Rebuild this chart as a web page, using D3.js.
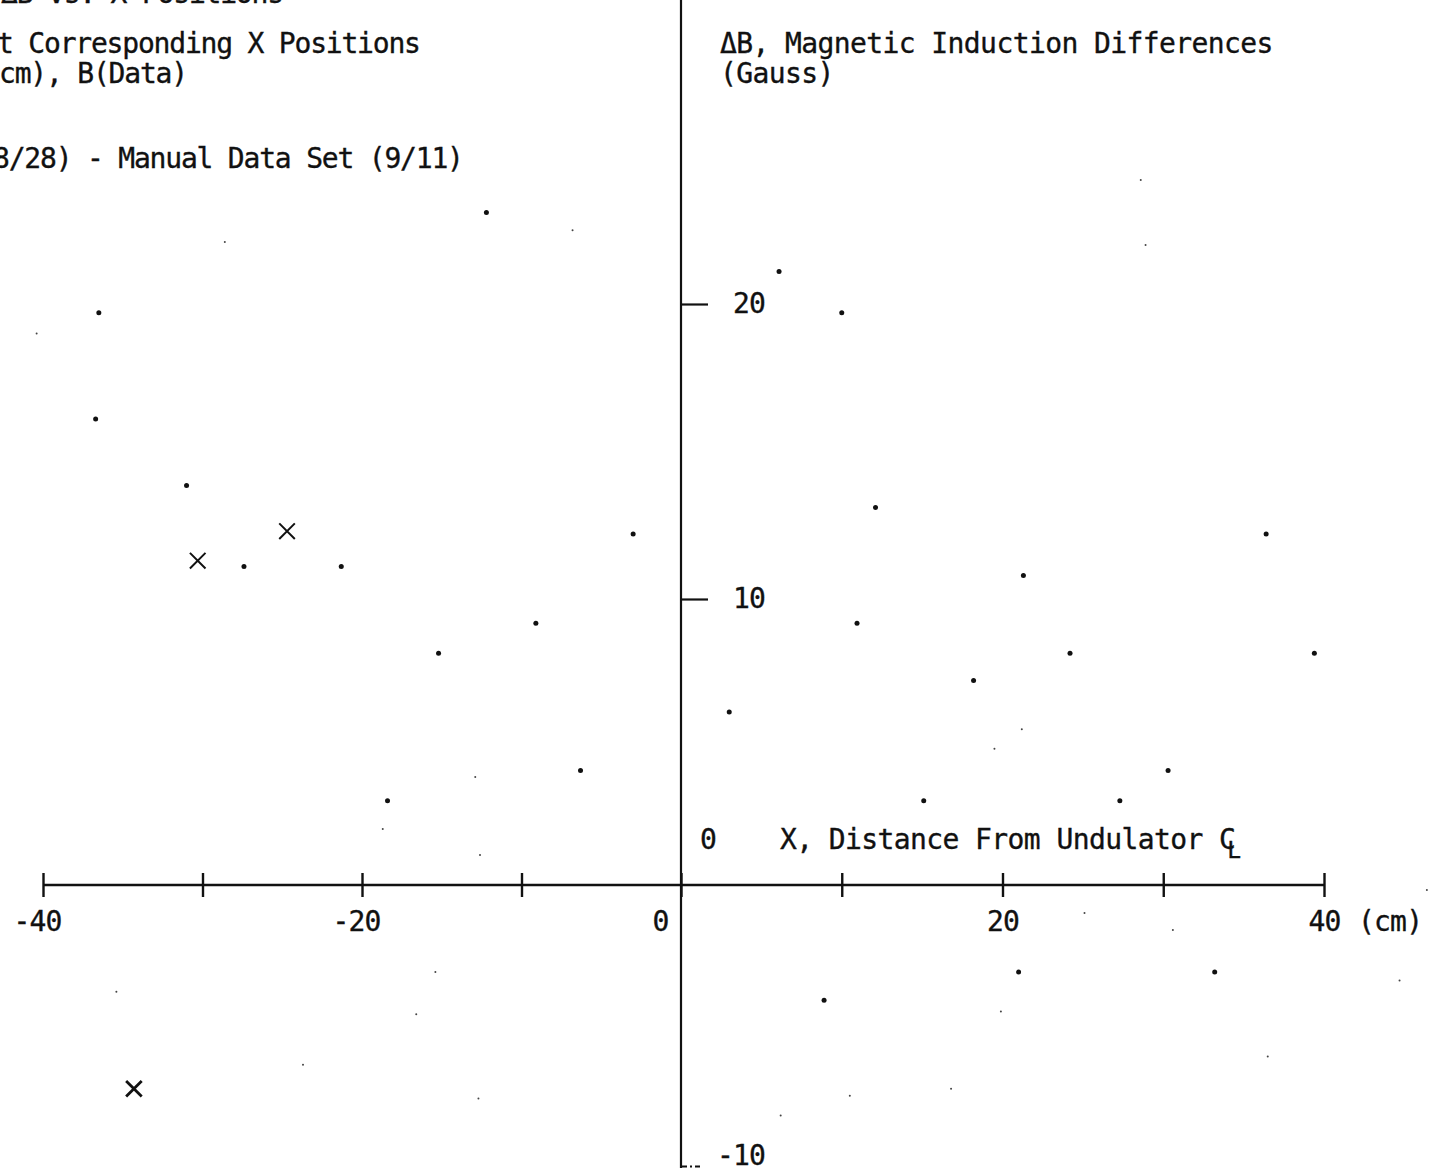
<!DOCTYPE html>
<html>
<head>
<meta charset="utf-8">
<script src="https://d3js.org/d3.v7.min.js"></script>
<style>
  body { margin: 0; background: #fff; }
  text { font-family: "DejaVu Sans Mono", monospace; fill: #111; stroke: #111; stroke-width: 0.35px; }
</style>
</head>
<body>
<script>
// tick values and labels
var xTicks = [-40, -30, -20, -10, 0, 10, 20, 30, 40];
var xTickLabels = ["-40", "", "-20", "", "0", "", "20", "", "40"];
var yTicks = [20, 10, -10];
var yTickLabels = ["20", "10", "-10"];

// measured dB points (x in cm, dB in gauss)
var dotX = [-12.2, -36.5, -36.7, -31.0, -27.4, -21.3, -3.0, -9.1, -15.2, -6.3, -18.4,
            6.1, 10.0, 12.1, 36.4, 21.3, 10.95, 3.0, 18.2, 24.2, 39.4, 30.3, 15.1, 27.3, 21.0, 33.2, 8.9];
var dotY = [23.1, 19.7, 16.1, 13.85, 11.1, 11.1, 12.2, 9.15, 8.1, 4.0, 2.95,
            21.1, 19.7, 13.1, 12.2, 10.8, 9.15, 6.05, 7.15, 8.1, 8.1, 4.0, 2.95, 2.95, -3.1, -3.1, -4.1];

// points marked with a cross
var crossX = [-24.7, -30.3, -34.3];
var crossY = [12.3, 11.3, -7.25];

// faint specks on the sheet
var speckX = [-6.8, -28.6, -40.4, -12.9, -18.7, -12.6, -35.4, -15.4, -16.6, -23.7, -12.7,
              28.9, 28.6, 21.2, 19.5, 46.4, 19.9, 44.7, 36.5, 10.5, 16.8, 6.2, 25.1, 30.6];
var speckY = [22.5, 22.1, 19.0, 3.78, 1.96, 1.05, -3.8, -3.1, -4.6, -6.4, -7.6,
              22.0, 24.2, 5.45, 4.76, -0.18, -4.5, -3.4, -6.1, -7.5, -7.25, -8.2, -1.0, -1.6];

var titleLines = ["ΔB vs. X Positions", "t Corresponding X Positions", "cm), B(Data)", "8/28) - Manual Data Set (9/11)"];
var yTitleLines = ["ΔB, Magnetic Induction Differences", "(Gauss)"];

window.onload = function() {
  main();
};

function zip(xs, ys) {
  return xs.map(function(x, i) { return {x: x, y: ys[i]}; });
}

function main() {
  var width = 1451;
  var height = 1176;

  var xScale = d3.scaleLinear()
                 .domain([-40, 0, 40])
                 .range([43, 681, 1324]);
  var yScale = d3.scaleLinear()
                 .domain([-10, 0, 10, 20])
                 .range([1166, 885, 599, 304]);

  var svg = d3.select("body")
              .append("svg")
              .attr("width", width)
              .attr("height", height);

  // titles, cut at the left edge like the scan
  var titleX = [1, -3, -1, -7];
  var titleY = [3, 53, 83, 168];
  svg.selectAll(".title")
     .data(titleLines)
     .enter()
     .append("text")
     .attr("class", "title")
     .attr("x", function(d, i){ return titleX[i]; })
     .attr("y", function(d, i){ return titleY[i]; })
     .attr("font-size", "28px")
     .attr("letter-spacing", "-1.2px")
     .text(function(d){ return d; });

  svg.selectAll(".ytitle")
     .data(yTitleLines)
     .enter()
     .append("text")
     .attr("class", "ytitle")
     .attr("x", 720)
     .attr("y", function(d, i){ return 53 + 30*i; })
     .attr("font-size", "28px")
     .attr("letter-spacing", "-0.6px")
     .text(function(d){ return d; });

  // axis lines
  svg.append("line")
     .attr("x1", xScale(-40))
     .attr("x2", xScale(40))
     .attr("y1", yScale(0))
     .attr("y2", yScale(0))
     .attr("stroke", "#111")
     .attr("stroke-width", 2.4);

  svg.append("line")
     .attr("x1", xScale(0))
     .attr("x2", xScale(0))
     .attr("y1", 0)
     .attr("y2", yScale(-10) + 2)
     .attr("stroke", "#111")
     .attr("stroke-width", 2.2);

  var xAxis = d3.axisBottom(xScale)
                .tickValues(xTicks)
                .tickSize(24)
                .tickFormat(function(d, i){ return xTickLabels[i]; });

  svg.append("g")
     .attr("class", "x-axis")
     .attr("transform", "translate(0," + (yScale(0) - 12) + ")")
     .call(xAxis)
     .call(function(g){ g.select(".domain").remove(); });

  svg.selectAll(".x-axis .tick line")
     .attr("stroke", "#111")
     .attr("stroke-width", 2.4);
  svg.selectAll(".x-axis .tick text")
     .attr("font-family", "DejaVu Sans Mono")
     .attr("font-size", "28px")
     .attr("letter-spacing", "-0.8px")
     .attr("fill", "#111")
     .attr("y", 58)
     .attr("dy", 0)
     .attr("dx", function(d){ return d < 0 ? -6 : 0; })
     .attr("text-anchor", function(d){ return d == 0 ? "end" : "middle"; })
     .attr("x", function(d){ return d == 0 ? -13 : 0; });

  var yAxis = d3.axisRight(yScale)
                .tickValues(yTicks)
                .tickSize(27)
                .tickFormat(function(d, i){ return yTickLabels[i]; });

  svg.append("g")
     .attr("class", "y-axis")
     .attr("transform", "translate(" + xScale(0) + ",0)")
     .call(yAxis)
     .call(function(g){ g.select(".domain").remove(); });

  svg.selectAll(".y-axis .tick line")
     .attr("stroke", "#111")
     .attr("stroke-width", 2.2)
     .attr("x2", function(d){ return d < 0 ? 19 : 27; })
     .attr("stroke-dasharray", function(d){ return d < 0 ? "6,3,2,3" : null; });
  svg.selectAll(".y-axis .tick text")
     .attr("font-family", "DejaVu Sans Mono")
     .attr("font-size", "28px")
     .attr("letter-spacing", "-0.8px")
     .attr("fill", "#111")
     .attr("x", function(d){ return d < 0 ? 36 : 52; })
     .attr("dy", function(d){ return d < 0 ? "-0.05em" : "0.3em"; });

  // zero label and axis title along the x axis
  svg.append("text")
     .attr("x", xScale(0) + 19)
     .attr("y", 849)
     .attr("font-size", "28px")
     .text("0");

  var xTitle = svg.append("text")
                  .attr("x", 780)
                  .attr("y", 849)
                  .attr("font-size", "28px")
                  .attr("letter-spacing", "-0.6px");
  xTitle.append("tspan").text("X, Distance From Undulator C");
  xTitle.append("tspan")
        .attr("dx", -8)
        .attr("dy", 9)
        .attr("font-size", "23px")
        .text("L");

  svg.append("text")
     .attr("x", 1358)
     .attr("y", 931)
     .attr("font-size", "28px")
     .attr("letter-spacing", "-0.8px")
     .text("(cm)");

  // specks
  svg.selectAll(".speck")
     .data(zip(speckX, speckY))
     .enter()
     .append("circle")
     .attr("class", "speck")
     .attr("cx", function(d){ return xScale(d.x); })
     .attr("cy", function(d){ return yScale(d.y); })
     .attr("r", 1)
     .attr("fill", "#444");

  // data dots
  svg.selectAll(".dot")
     .data(zip(dotX, dotY))
     .enter()
     .append("circle")
     .attr("class", "dot")
     .attr("cx", function(d){ return xScale(d.x); })
     .attr("cy", function(d){ return yScale(d.y); })
     .attr("r", 2.5)
     .attr("fill", "#111");

  // crosses
  var cross = d3.symbol().type(d3.symbolX).size(160);
  svg.selectAll(".cross")
     .data(zip(crossX, crossY))
     .enter()
     .append("path")
     .attr("class", "cross")
     .attr("d", cross)
     .attr("transform", function(d){
       return "translate(" + xScale(d.x) + "," + yScale(d.y) + ")";
     })
     .attr("fill", "none")
     .attr("stroke", "#111")
     .attr("stroke-width", function(d, i){ return i == 2 ? 2.8 : 2; });
}
</script>
</body>
</html>
